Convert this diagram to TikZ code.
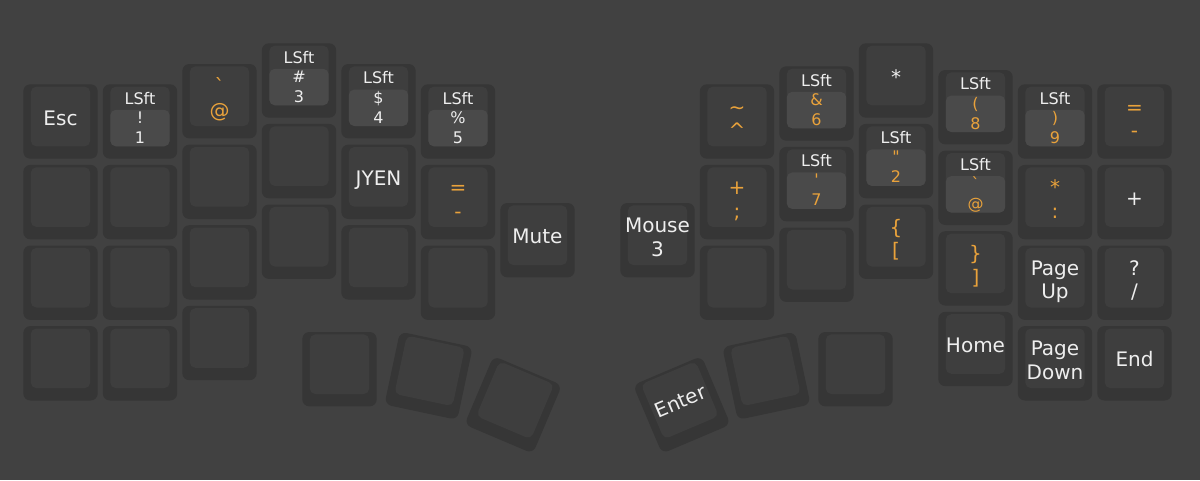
\documentclass[tikz,border=0pt]{standalone}
\usepackage{fontspec}
\setmainfont{DejaVu Sans}
\definecolor{bgc}{HTML}{414141}
\definecolor{keyouter}{HTML}{363636}
\definecolor{keyinner}{HTML}{3E3E3E}
\definecolor{keybox}{HTML}{4A4A4A}
\definecolor{txtw}{HTML}{EEEEEE}
\definecolor{txto}{HTML}{E9A23B}
\tikzset{
  keyout/.style={fill=keyouter, rounded corners=7pt},
  keyin/.style={fill=keyinner, rounded corners=5.5pt},
  boxc/.style={fill=keybox, rounded corners=5.5pt},
  lw/.style={text=txtw, font=\fontsize{20}{24}\selectfont, anchor=base, inner sep=0pt},
  lo/.style={lw, text=txto},
  sw/.style={text=txtw, font=\fontsize{16}{19}\selectfont, anchor=base, inner sep=0pt},
  so/.style={sw, text=txto}
}
% key cap: cx cy angle
\newcommand\kc[3]{%
  \begin{scope}[shift={(#1,#2)},rotate=#3]
    \fill[keyout] (-37.2,-37.2) rectangle (37.2,37.2);
    \fill[keyin] (-29.7,-34.8) rectangle (29.7,24.8);
  \end{scope}}
% single line: name cx cy style text
\newcommand\keyA[5]{%
  \kc{#2}{#3}{0}
  \node[#4] (#1) at (#2,#3+3.5) {#5};}
% two lines: name cx cy style l1 l2
\newcommand\keyB[6]{%
  \kc{#2}{#3}{0}
  \node[#4] (#1a) at (#2,#3-7.5) {#5};
  \node[#4] (#1b) at (#2,#3+16) {#6};}
% shifted with LSft: name cx cy style sym digit
\newcommand\keyS[6]{%
  \kc{#2}{#3}{0}
  \fill[boxc] (#2-29.7,#3-11.7) rectangle (#2+29.7,#3+24.8);
  \node[sw] (#1h) at (#2,#3-17.5) {LSft};
  \node[#4] (#1a) at (#2,#3+1.8) {#5};
  \node[#4] (#1b) at (#2,#3+21.8) {#6};}
\begin{document}
\begin{tikzpicture}[x=1pt,y=-1pt]
\useasboundingbox (0,0) rectangle (1200,480);
\fill[bgc] (0,0) rectangle (1200,480);
% ---------- left half ----------
\keyA{esc}{60.5}{121.5}{lw}{Esc}
\kc{60.5}{202.1}{0}
\kc{60.5}{282.7}{0}
\kc{60.5}{363.3}{0}
\keyS{kone}{140}{121.5}{sw}{!}{1}
\kc{140}{202.1}{0}
\kc{140}{282.7}{0}
\kc{140}{363.3}{0}
\keyB{kat}{219.5}{101.2}{lo}{\textasciigrave}{@}
\kc{219.5}{181.8}{0}
\kc{219.5}{262.4}{0}
\kc{219.5}{343}{0}
\keyS{kthree}{299}{80.5}{sw}{\#}{3}
\kc{299}{161.1}{0}
\kc{299}{241.7}{0}
\keyS{kfour}{378.5}{101.2}{sw}{\$}{4}
\keyA{jyen}{378.5}{181.8}{lw}{JYEN}
\kc{378.5}{262.4}{0}
\keyS{kfive}{458}{121.5}{sw}{\%}{5}
\keyB{keq}{458}{202.1}{lo}{=}{-}
\kc{458}{282.7}{0}
\keyA{mute}{537.5}{240.2}{lw}{Mute}
\kc{339.5}{369.2}{0}
\kc{428.6}{375.75}{-12}
\kc{513.2}{404.8}{-23}
% ---------- right half ----------
\keyB{mouse}{657.5}{240.2}{lw}{Mouse}{3}
\keyB{tilde}{737}{121.5}{lo}{\textasciitilde}{\textasciicircum}
\keyB{plus}{737}{202.1}{lo}{+}{;}
\kc{737}{282.7}{0}
\keyS{ksix}{816.5}{103.5}{so}{\&}{6}
\keyS{kseven}{816.5}{184.1}{so}{\textquotesingle}{7}
\kc{816.5}{264.7}{0}
\keyA{star}{896}{80.5}{lw}{*}
\keyS{ktwo}{896}{161.1}{so}{\textquotedbl}{2}
\keyB{brace}{896}{241.7}{lo}{\{}{[}
\keyS{keight}{975.5}{107.2}{so}{(}{8}
\keyS{kattwo}{975.5}{187.8}{so}{\textasciigrave}{@}
\keyB{rbrace}{975.5}{268.4}{lo}{\}}{]}
\keyA{home}{975.5}{349}{lw}{Home}
\keyS{knine}{1055}{121.5}{so}{)}{9}
\keyB{colon}{1055}{202.1}{lo}{*}{:}
\keyB{pgup}{1055}{282.7}{lw}{Page}{Up}
\keyB{pgdn}{1055}{363.3}{lw}{Page}{Down}
\keyB{minus}{1134.5}{121.5}{lo}{=}{-}
\keyA{plusw}{1134.5}{202.1}{lw}{+}
\keyB{slash}{1134.5}{282.7}{lw}{?}{/}
\keyA{endk}{1134.5}{363.3}{lw}{End}
\kc{855.5}{369.2}{0}
\kc{766.4}{375.75}{12}
\kc{681.8}{404.8}{23}
\begin{scope}[shift={(681.8,404.8)},rotate=23]
  \node[lw, transform shape] (enter) at (0,3.5) {Enter};
\end{scope}
\end{tikzpicture}
\end{document}
